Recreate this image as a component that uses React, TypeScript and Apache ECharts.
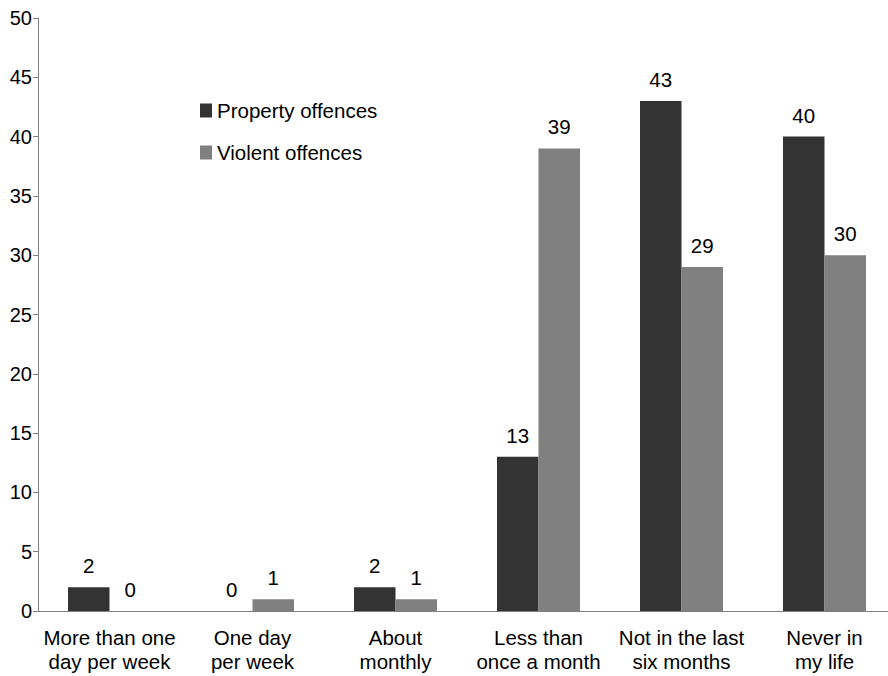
import React, { useEffect, useRef } from "react";
import * as echarts from "echarts";

const categories = [
  "More than one\nday per week",
  "One day\nper week",
  "About\nmonthly",
  "Less than\nonce a month",
  "Not in the last\nsix months",
  "Never in\nmy life",
];
const propertyValues = [2, 0, 2, 13, 43, 40];
const violentValues = [0, 1, 1, 39, 29, 30];
const seriesNames = ["Property offences", "Violent offences"];

export default function App() {
  const ref = useRef<HTMLDivElement>(null);
  useEffect(() => {
    if (!ref.current) return;
    const chart = echarts.init(ref.current, undefined, { renderer: "svg" });
    const font = "'Liberation Sans', Arial, sans-serif";
    const labelCfg = {
      show: true,
      position: "top",
      distance: 11,
      color: "#000",
      fontSize: 20.5,
      fontFamily: font,
    };
    chart.setOption({
      animation: false,
      textStyle: { fontFamily: font },
      grid: { left: 38, top: 18, bottom: 65, width: 858, outerBoundsMode: "none", containLabel: false },
      legend: {
        orient: "vertical",
        left: 195,
        top: 95,
        itemWidth: 12,
        itemHeight: 14,
        itemGap: 21,
        icon: "rect",
        textStyle: { fontSize: 20.5, color: "#000", fontFamily: font },
        data: seriesNames,
      },
      xAxis: {
        type: "category",
        data: categories,
        axisLine: { lineStyle: { color: "#808080", width: 1 } },
        axisTick: { show: false },
        axisLabel: {
          color: "#000",
          fontSize: 20.5,
          fontFamily: font,
          lineHeight: 24,
          margin: 14,
          interval: 0,
        },
      },
      yAxis: {
        type: "value",
        min: 0,
        max: 50,
        interval: 5,
        splitLine: { show: false },
        axisLine: { show: true, lineStyle: { color: "#808080", width: 1 } },
        axisTick: { show: true, length: 5, lineStyle: { color: "#808080" } },
        axisLabel: { color: "#000", fontSize: 20, fontFamily: font, margin: 6 },
      },
      series: [
        {
          name: seriesNames[0],
          type: "bar",
          data: propertyValues,
          barWidth: 41.5,
          barGap: "0%",
          itemStyle: { color: "#333333" },
          label: labelCfg,
        },
        {
          name: seriesNames[1],
          type: "bar",
          data: violentValues,
          barWidth: 41.5,
          barGap: "0%",
          itemStyle: { color: "#808080" },
          label: labelCfg,
        },
      ],
    });
    return () => chart.dispose();
  }, []);
  return <div ref={ref} style={{ width: 888, height: 676, position: "absolute", left: 0, top: 0 }} />;
}
